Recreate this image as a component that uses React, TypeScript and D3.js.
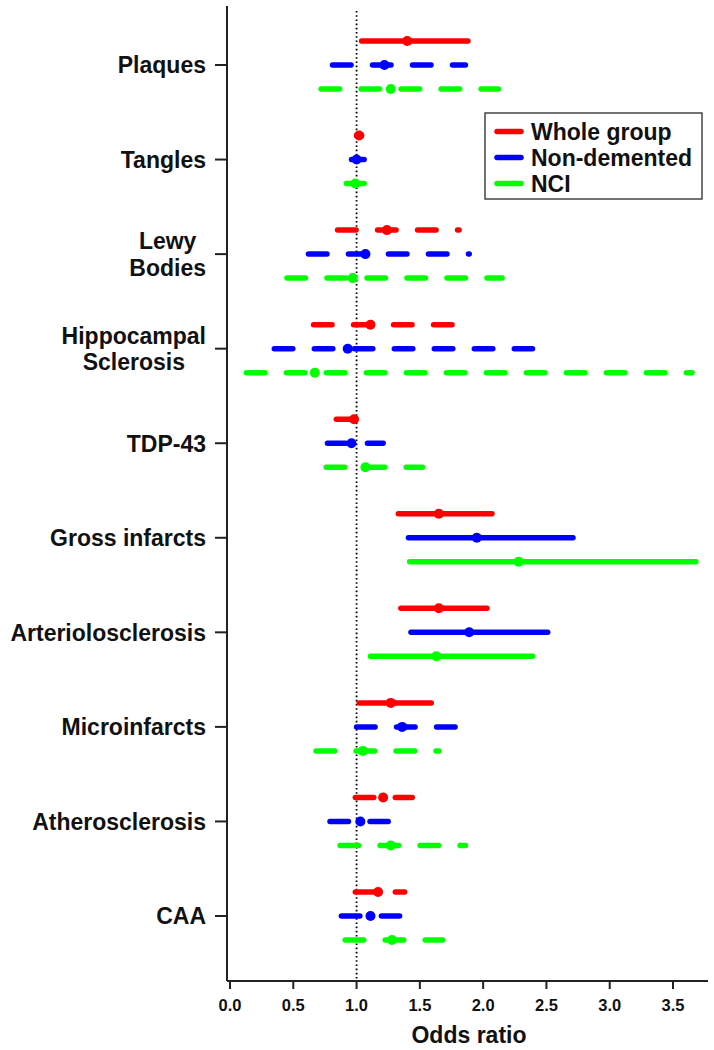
import { useEffect, useRef } from 'react';
import * as d3 from 'd3';

// pathologies, top to bottom ("\n" = two line label)
const categories = ['Plaques', 'Tangles', 'Lewy\nBodies', 'Hippocampal\nSclerosis', 'TDP-43',
    'Gross infarcts', 'Arteriolosclerosis', 'Microinfarcts', 'Atherosclerosis', 'CAA'];

const groups = ['Whole group', 'Non-demented', 'NCI'];
const groupColors = ['#ff0000', '#0000ff', '#00ff00'];

// odds ratio estimate and 95% CI, one array per group
const wholeEst = [1.40, 1.02, 1.24, 1.11, 0.98, 1.65, 1.65, 1.27, 1.21, 1.17];
const wholeLo = [1.04, 1.00, 0.85, 0.66, 0.84, 1.33, 1.35, 1.02, 0.99, 0.99];
const wholeHi = [1.88, 1.04, 1.81, 1.91, 1.15, 2.07, 2.03, 1.59, 1.44, 1.38];
const wholeSolid = [true, false, false, false, false, true, true, true, false, false];

const nondemEst = [1.22, 1.00, 1.07, 0.93, 0.96, 1.95, 1.89, 1.36, 1.03, 1.11];
const nondemLo = [0.81, 0.96, 0.62, 0.35, 0.77, 1.41, 1.43, 1.00, 0.79, 0.88];
const nondemHi = [1.86, 1.06, 1.89, 2.39, 1.21, 2.71, 2.51, 1.78, 1.25, 1.34];
const nondemSolid = [false, false, false, false, false, true, true, false, false, false];

const nciEst = [1.27, 0.99, 0.97, 0.67, 1.07, 2.28, 1.63, 1.05, 1.27, 1.28];
const nciLo = [0.72, 0.92, 0.45, 0.13, 0.76, 1.42, 1.11, 0.68, 0.87, 0.91];
const nciHi = [2.12, 1.06, 2.15, 3.65, 1.52, 3.68, 2.39, 1.65, 1.86, 1.68];
const nciSolid = [false, false, false, false, false, true, true, false, false, false];

const xTicks = [0, 0.5, 1, 1.5, 2, 2.5, 3, 3.5];

const FONT = "'Liberation Sans', Arial, Helvetica, sans-serif";

function renderForest(node: SVGSVGElement) {
    const svg = d3.select(node);
    svg.selectAll('*').remove();

    const x = d3.scaleLinear().domain([0, 3.5]).range([230, 673]);
    const y = d3.scalePoint<string>().domain(categories).range([65, 916]);
    const offset = d3.scalePoint<string>().domain(groups).range([-24, 24]);
    const axisLeftX = 227, axisBottomY = 981;

    // reference line at OR = 1
    svg.append('line')
        .attr('x1', x(1)).attr('x2', x(1))
        .attr('y1', 11).attr('y2', axisBottomY)
        .attr('stroke', '#000')
        .attr('stroke-width', 1.8)
        .attr('stroke-dasharray', '1.6,2.6');

    const series = [
        { name: groups[0], color: groupColors[0], est: wholeEst, lo: wholeLo, hi: wholeHi, solid: wholeSolid },
        { name: groups[1], color: groupColors[1], est: nondemEst, lo: nondemLo, hi: nondemHi, solid: nondemSolid },
        { name: groups[2], color: groupColors[2], est: nciEst, lo: nciLo, hi: nciHi, solid: nciSolid },
    ];

    series.forEach(s => {
        const g = svg.append('g').attr('class', 'series');
        categories.forEach((cat, i) => {
            const yy = (y(cat) as number) + (offset(s.name) as number);
            g.append('line')
                .attr('x1', x(s.lo[i])).attr('x2', x(s.hi[i]))
                .attr('y1', yy).attr('y2', yy)
                .attr('stroke', s.color)
                .attr('stroke-width', 5.5)
                .attr('stroke-linecap', 'round')
                .attr('stroke-dasharray', s.solid[i] ? null : '18.5,21.5');
            g.append('circle')
                .attr('cx', x(s.est[i]))
                .attr('cy', yy)
                .attr('r', 5)
                .attr('fill', s.color);
        });
    });

    // axes (L shaped box)
    svg.append('line')
        .attr('x1', axisLeftX).attr('x2', axisLeftX)
        .attr('y1', 6).attr('y2', axisBottomY)
        .attr('stroke', '#222').attr('stroke-width', 2);
    svg.append('line')
        .attr('x1', axisLeftX).attr('x2', 708)
        .attr('y1', axisBottomY).attr('y2', axisBottomY)
        .attr('stroke', '#222').attr('stroke-width', 2);

    const xt = svg.append('g');
    xTicks.forEach(t => {
        xt.append('line')
            .attr('x1', x(t)).attr('x2', x(t))
            .attr('y1', axisBottomY).attr('y2', axisBottomY + 8)
            .attr('stroke', '#222').attr('stroke-width', 2);
        xt.append('text')
            .attr('x', x(t)).attr('y', 1011)
            .attr('text-anchor', 'middle')
            .attr('font-family', FONT).attr('font-weight', 'bold').attr('font-size', 16.5)
            .attr('fill', '#111')
            .text(d3.format('.1f')(t));
    });

    svg.append('text')
        .attr('x', 469).attr('y', 1043)
        .attr('text-anchor', 'middle')
        .attr('font-family', FONT).attr('font-weight', 'bold').attr('font-size', 23)
        .attr('fill', '#111')
        .text('Odds ratio');

    // category labels and y ticks
    const labelRight = 206;
    categories.forEach(cat => {
        const yy = y(cat) as number;
        svg.append('line')
            .attr('x1', 215).attr('x2', axisLeftX)
            .attr('y1', yy).attr('y2', yy)
            .attr('stroke', '#222').attr('stroke-width', 2);
        const lines = cat.split('\n');
        const txt = svg.append('text')
            .attr('font-family', FONT).attr('font-weight', 'bold').attr('font-size', 23)
            .attr('fill', '#111')
            .attr('text-anchor', lines.length > 1 ? 'middle' : 'end');
        if (lines.length === 1) {
            txt.attr('x', labelRight).attr('y', yy).attr('dy', '0.36em').text(cat);
        } else {
            const lh = 26.5;
            const tspans = lines.map((l, k) => txt.append('tspan')
                .attr('y', yy + (k - (lines.length - 1) / 2) * lh)
                .attr('dy', '0.36em')
                .text(l));
            const maxW = d3.max(tspans, t => (t.node() as SVGTSpanElement).getComputedTextLength()) || 0;
            tspans.forEach(t => t.attr('x', labelRight - maxW / 2));
        }
    });

    // legend
    const lg = svg.append('g');
    lg.append('rect')
        .attr('x', 485).attr('y', 113)
        .attr('width', 217).attr('height', 86)
        .attr('fill', '#fff')
        .attr('stroke', '#444').attr('stroke-width', 1.5);
    groups.forEach((name, i) => {
        const ly = 131.5 + i * 26;
        lg.append('line')
            .attr('x1', 497).attr('x2', 521)
            .attr('y1', ly).attr('y2', ly)
            .attr('stroke', groupColors[i])
            .attr('stroke-width', 5.5)
            .attr('stroke-linecap', 'round');
        lg.append('text')
            .attr('x', 531).attr('y', ly).attr('dy', '0.36em')
            .attr('font-family', FONT).attr('font-weight', 'bold').attr('font-size', 23)
            .attr('fill', '#111')
            .text(name);
    });
}

const App = () => {
    const ref = useRef<SVGSVGElement>(null);

    useEffect(() => {
        if (ref.current) renderForest(ref.current);
    }, []);

    return (
        <svg ref={ref} width={714} height={1050}
            style={{ position: 'absolute', left: 0, top: 0, background: '#fff' }} />
    );
};

export default App;
